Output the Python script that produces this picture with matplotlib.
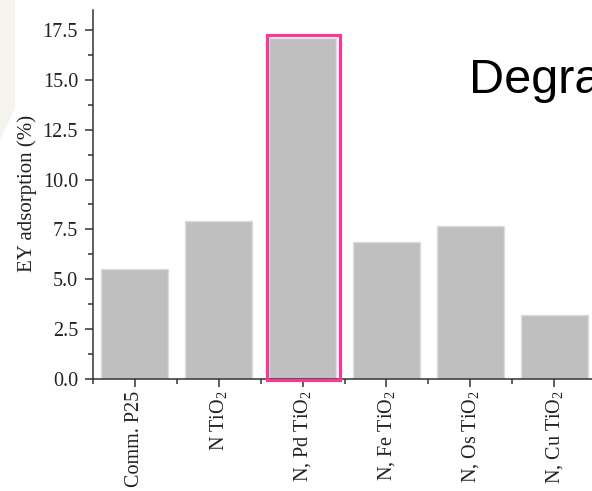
import matplotlib
matplotlib.use("Agg")
import matplotlib.pyplot as plt
from matplotlib.patches import Rectangle, Polygon
from matplotlib.ticker import MultipleLocator

plt.rcParams['font.family'] = ['Liberation Serif', 'DejaVu Serif']
plt.rcParams['mathtext.fontset'] = 'custom'
plt.rcParams['mathtext.rm'] = 'Liberation Serif'
plt.rcParams['mathtext.it'] = 'Liberation Serif:italic'

# data
samples = ['Comm. P25', r'N TiO$_2$', r'N, Pd TiO$_2$', r'N, Fe TiO$_2$',
           r'N, Os TiO$_2$', r'N, Cu TiO$_2$']
adsorption = [5.5, 7.9, 17.1, 6.85, 7.65, 3.2]
highlight = 2  # N, Pd TiO2 is boxed

W, H = 592, 491
fig = plt.figure(figsize=(W / 100, H / 100), dpi=100)

# faint background shape at the left edge of the slide
fig.patches.append(Polygon([(0, 1), (15 / W, 1), (15 / W, 1 - 108 / H), (0, 1 - 140 / H)],
                           closed=True, transform=fig.transFigure,
                           facecolor='#f5f3ee', edgecolor='none', zorder=0))

ax = fig.add_axes([93 / W, (H - 379) / H, (596 - 93) / W, (379 - 10) / H])
ax.patch.set_alpha(0)

x = list(range(len(samples)))
ax.bar(x, adsorption, width=0.8, color='#bfbfbf', edgecolor='#dcdcdc', linewidth=1)

# pink frame around the highlighted bar
hv = adsorption[highlight]
ax.add_patch(Rectangle((highlight - 0.43, -0.05), 0.88, hv + 0.2, fill=False,
                       edgecolor='#f73a98', linewidth=2.3, clip_on=False, zorder=5))

ax.set_xlim(-0.5, len(samples) - 0.5)
ax.set_ylim(0, 18.5)
ax.yaxis.set_minor_locator(MultipleLocator(1.25))
ax.set_yticks([0, 2.5, 5, 7.5, 10, 12.5, 15, 17.5])
ax.set_yticklabels(['0.0', '2.5', '5.0', '7.5', '10.0', '12.5', '15.0', '17.5'])
ax.set_xticks(x)
ax.set_xticks([i - 0.5 for i in x] + [len(samples) - 0.5], minor=True)
ax.set_xticklabels(samples, rotation=90)

for s in ['top', 'right']:
    ax.spines[s].set_visible(False)
for s in ['left', 'bottom']:
    ax.spines[s].set_linewidth(1.1)
    ax.spines[s].set_color('#333333')

ax.tick_params(which='major', direction='out', length=5.8, width=1.1, color='#333333',
               labelsize=14.5, labelcolor='#222222', pad=5)
ax.tick_params(axis='x', which='major', pad=2.5)
ax.tick_params(which='minor', direction='out', length=3.6, width=1.1, color='#333333')

ax.set_ylabel('EY adsorption (%)', fontsize=15, color='#222222')
ax.yaxis.set_label_coords(37 / W, 1 - 193 / H, transform=fig.transFigure)

fig.text(469 / W, 1 - 93 / H, 'Degradation', fontsize=35, family='Liberation Sans',
         color='black', ha='left', va='baseline')

fig.savefig('out.png', dpi=100)
